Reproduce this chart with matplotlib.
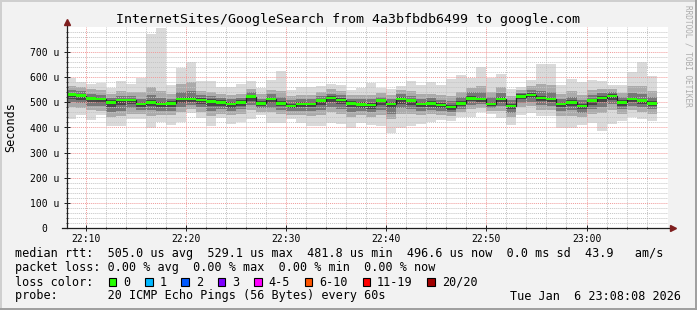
import matplotlib
matplotlib.use("Agg")
import matplotlib.pyplot as plt
from matplotlib.patches import Rectangle
from matplotlib.lines import Line2D
import numpy as np

plt.rcParams['font.family'] = 'DejaVu Sans Mono'

W, H = 697, 310

# --- time grid: minutes after 22:00, one step per minute ---
t_start = 8 + 8 / 60.0      # 22:08:08
t_end = 68 + 8 / 60.0       # 23:08:08
step_end = np.arange(9, 68)  # 22:09 ... 23:07

# --- data (microseconds) ---
median = [530, 526, 516, 513, 501, 509, 509, 494, 501, 494,
          497, 513, 513, 509, 505, 501, 494, 501, 523, 497,
          513, 497, 486, 494, 494, 506, 517, 509, 497, 493,
          490, 506, 494, 513, 506, 494, 497, 490, 482, 497,
          516, 513, 494, 513, 486, 523, 529, 517, 513, 494,
          501, 486, 506, 517, 525, 501, 513, 506, 497]

ping_max = [599, 580, 573, 578, 556, 586, 573, 598, 772, 798,
            569, 638, 662, 586, 586, 560, 560, 573, 586, 556,
            589, 626, 549, 560, 560, 565, 573, 569, 549, 556,
            578, 556, 552, 565, 585, 569, 580, 569, 593, 609,
            599, 642, 599, 613, 552, 560, 589, 652, 652, 569,
            593, 580, 589, 586, 569, 569, 622, 662, 605]

ping_min = [432, 450, 430, 450, 406, 406, 432, 432, 397, 423,
            410, 423, 456, 436, 406, 436, 414, 423, 432, 450,
            419, 419, 432, 419, 406, 406, 419, 414, 397, 419,
            410, 406, 379, 397, 406, 414, 423, 430, 427, 443,
            443, 463, 454, 436, 410, 450, 456, 446, 446, 399,
            399, 410, 419, 387, 414, 427, 443, 432, 427]

# inner smoke bands (outer -> inner)
lo2 = [480, 478, 468, 466, 440, 445, 455, 452, 445, 448,
       448, 462, 472, 462, 445, 455, 448, 455, 468, 462,
       460, 452, 450, 450, 445, 450, 462, 455, 440, 448,
       442, 450, 432, 455, 452, 448, 452, 450, 445, 460,
       472, 478, 466, 465, 440, 480, 485, 470, 468, 445,
       445, 440, 455, 458, 470, 455, 470, 462, 455]
hi2 = [565, 560, 552, 550, 535, 545, 540, 540, 560, 545,
       535, 575, 580, 545, 540, 532, 528, 535, 555, 532,
       550, 545, 525, 530, 530, 540, 552, 545, 530, 528,
       530, 538, 530, 548, 545, 532, 535, 528, 525, 540,
       558, 565, 540, 560, 525, 548, 565, 575, 570, 535,
       545, 530, 548, 555, 555, 538, 565, 565, 545]
lo3 = [500, 496, 486, 484, 460, 466, 476, 468, 468, 466,
       466, 482, 488, 480, 464, 472, 464, 472, 488, 476,
       478, 470, 464, 466, 464, 470, 482, 474, 460, 465,
       460, 470, 455, 476, 472, 466, 468, 464, 460, 474,
       490, 492, 476, 484, 458, 498, 502, 488, 486, 464,
       468, 458, 474, 480, 492, 472, 486, 480, 472]
hi3 = [548, 545, 535, 530, 518, 525, 525, 515, 528, 518,
       515, 540, 545, 528, 525, 518, 512, 518, 540, 515,
       532, 522, 508, 514, 515, 525, 535, 528, 515, 512,
       512, 522, 515, 532, 525, 515, 518, 510, 505, 520,
       540, 540, 520, 538, 508, 538, 548, 545, 540, 515,
       522, 510, 528, 538, 542, 520, 538, 535, 522]
lo4 = [514, 510, 500, 498, 480, 488, 492, 480, 485, 480,
       482, 498, 500, 494, 484, 486, 478, 486, 504, 486,
       496, 484, 476, 480, 480, 488, 500, 492, 480, 478,
       475, 488, 476, 495, 490, 480, 482, 476, 470, 486,
       504, 502, 486, 500, 474, 512, 516, 504, 500, 480,
       486, 472, 490, 500, 510, 486, 500, 494, 486]
hi4 = [536, 532, 522, 520, 508, 515, 515, 500, 510, 502,
       504, 522, 522, 516, 512, 508, 500, 508, 530, 504,
       520, 505, 494, 502, 502, 513, 525, 516, 504, 500,
       497, 513, 502, 520, 514, 502, 505, 497, 490, 505,
       525, 522, 502, 522, 494, 532, 538, 526, 522, 502,
       508, 494, 514, 525, 532, 508, 520, 514, 506]

xtick_pos = [10, 20, 30, 40, 50, 60]
xtick_labels = ["22:10", "22:20", "22:30", "22:40", "22:50", "23:00"]
ytick_pos = [0, 100, 200, 300, 400, 500, 600, 700]
ytick_labels = ["0  ", "100 u", "200 u", "300 u", "400 u", "500 u", "600 u", "700 u"]

loss_labels = ["0", "1", "2", "3", "4-5", "6-10", "11-19", "20/20"]
loss_colors = ["#26ff00", "#00b8ff", "#0059ff", "#7e00ff",
               "#ff00ff", "#ff5500", "#ff0000", "#a10000"]

# --- figure ---
fig = plt.figure(figsize=(W / 100, H / 100), dpi=100, facecolor="#f2f2f2")
ax = fig.add_axes([67 / W, 1 - 228 / H, 601 / W, 201 / H])
ax.set_facecolor("white")

edges = np.concatenate([[t_start], step_end])
left = edges[:-1]
width = np.diff(edges)

bands = [(ping_min, ping_max, "#dadada"),
         (lo2, hi2, "#ababab"),
         (lo3, hi3, "#777777"),
         (lo4, hi4, "#474747")]
for lo, hi, col in bands:
    lo = np.array(lo, float)
    hi = np.array(hi, float)
    ax.bar(left, hi - lo, width=width, bottom=lo, align="edge",
           color=col, linewidth=0, zorder=1)

med = np.array(median, float)
ax.stairs(med, edges, baseline=None, color="#202020", linewidth=0.9, zorder=3)
ax.bar(left, np.full(len(med), 11.0), width=width, bottom=med - 5.5,
       align="edge", color=loss_colors[0], linewidth=0, zorder=4)

ax.set_xlim(t_start, t_end)
ax.set_ylim(0, 800)

ax.set_xticks(xtick_pos)
ax.set_xticklabels(xtick_labels, fontsize=7)
ax.set_xticks(np.arange(10, 68, 2), minor=True)
ax.set_yticks(ytick_pos)
ax.set_yticklabels(ytick_labels, fontsize=7)
ax.set_yticks(np.arange(20, 800, 20), minor=True)

ax.grid(which="minor", color="#c4c4c4", linestyle=(0, (1, 1)), linewidth=0.7)
ax.grid(which="major", color="#f09a9a", linestyle=(0, (1, 1)), linewidth=0.7)
ax.set_axisbelow(False)
for gl in ax.get_xgridlines() + ax.get_ygridlines():
    gl.set_zorder(2)

ax.tick_params(axis="y", which="major", direction="inout", length=4, width=0.7,
               color="#1f1f1f", pad=3.5)
ax.tick_params(axis="y", which="minor", direction="inout", length=2, width=0.6,
               color="#1f1f1f")
ax.tick_params(axis="x", which="major", direction="inout", length=4, width=0.7,
               color="#1f1f1f", pad=2.5)
ax.tick_params(axis="x", which="minor", direction="inout", length=2, width=0.6,
               color="#1f1f1f")

for s in ax.spines.values():
    s.set_visible(False)

# axes with arrows
ax.plot([t_start, t_start], [0, 815], color="#1f1f1f", lw=0.9, clip_on=False, zorder=5)
ax.plot([t_start - 0.5, t_end + 0.4], [0, 0], color="#1f1f1f", lw=0.9, clip_on=False, zorder=5)
ax.plot([t_start], [820], marker="^", markersize=5, color="#7f1f1f", clip_on=False, zorder=6)
ax.plot([t_end + 0.45], [0], marker=">", markersize=5, color="#7f1f1f", clip_on=False, zorder=6)


def fx(x):
    return x / W


def fy(y):
    return 1 - y / H


fig.text(fx(348), fy(19), "InternetSites/GoogleSearch from 4a3bfbdb6499 to google.com",
         ha="center", va="center", fontsize=9.5)
fig.text(fx(11), fy(127), "Seconds", rotation=90, ha="center", va="center", fontsize=8.5)
fig.text(fx(688), fy(5), "RRDTOOL / TOBI OETIKER", rotation=270, ha="center", va="top",
         fontsize=5.6, color="#ababab")

# legend
ch = 7.13
x0 = 14.6
fs = 8.5
fig.text(fx(x0), fy(254), "median rtt:  505.0 us avg  529.1 us max  481.8 us min  "
         "496.6 us now  0.0 ms sd  43.9   am/s", ha="left", va="center", fontsize=fs)
fig.text(fx(x0), fy(268), "packet loss: 0.00 % avg  0.00 % max  0.00 % min  0.00 % now",
         ha="left", va="center", fontsize=fs)
fig.text(fx(x0), fy(282), "loss color:", ha="left", va="center", fontsize=fs)
fig.text(fx(x0), fy(296), "probe:       20 ICMP Echo Pings (56 Bytes) every 60s",
         ha="left", va="center", fontsize=fs)
fig.text(fx(681), fy(296), "Tue Jan  6 23:08:08 2026", ha="right", va="center", fontsize=fs)

bx = x0 + 13.2 * ch
for lab, col in zip(loss_labels, loss_colors):
    fig.add_artist(Rectangle((fx(bx), fy(285.5)), 7.5 / W, 7.5 / H,
                             transform=fig.transFigure, facecolor=col,
                             edgecolor="black", linewidth=0.8))
    fig.text(fx(bx + 2 * ch), fy(282), lab, ha="left", va="center", fontsize=fs)
    bx += (len(lab) + 4.1) * ch

# 3d frame
fig.add_artist(Line2D([0, 1], [1 - 1 / H, 1 - 1 / H], transform=fig.transFigure,
                      color="#cfcfcf", lw=1.4))
fig.add_artist(Line2D([1 / W, 1 / W], [0, 1], transform=fig.transFigure,
                      color="#cfcfcf", lw=1.4))
fig.add_artist(Line2D([0, 1], [1 / H, 1 / H], transform=fig.transFigure,
                      color="#9e9e9e", lw=1.4))
fig.add_artist(Line2D([1 - 1 / W, 1 - 1 / W], [0, 1], transform=fig.transFigure,
                      color="#9e9e9e", lw=1.4))

fig.savefig("out.png", dpi=100, facecolor=fig.get_facecolor())
